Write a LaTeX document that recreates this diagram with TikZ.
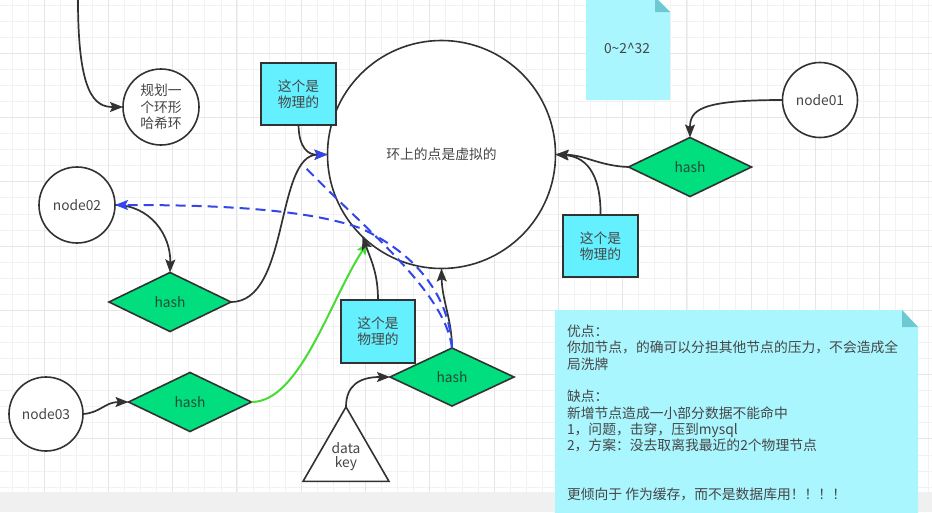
\documentclass[tikz,border=0pt]{standalone}
\usepackage{fontspec}
\setmainfont{Noto Sans CJK SC}
\usetikzlibrary{shapes.geometric,arrows.meta}
\definecolor{cyanbox}{RGB}{100,240,255}
\definecolor{greenc}{RGB}{0,222,125}
\definecolor{notefill}{RGB}{170,246,255}
\definecolor{notefold}{RGB}{110,200,210}
\definecolor{txt}{RGB}{70,70,70}
\definecolor{hashtxt}{RGB}{40,75,55}
\definecolor{linec}{RGB}{50,50,50}
\definecolor{bluec}{RGB}{50,70,235}
\definecolor{greenl}{RGB}{70,220,50}
\definecolor{gridminor}{RGB}{242,242,242}
\definecolor{gridmajor}{RGB}{230,230,230}
\definecolor{band}{RGB}{240,240,240}
\begin{document}
\begin{tikzpicture}[x=1pt,y=-1pt,
  every node/.style={font=\fontsize{13.8}{16.3}\selectfont, text=txt, outer sep=0pt},
  circ/.style={circle, draw=linec, line width=1.6pt, fill=white, inner sep=0pt, align=center},
  physbox/.style={rectangle, draw=linec, line width=1.6pt, fill=cyanbox, minimum width=75pt, minimum height=62pt, align=center, inner sep=0pt},
  hashd/.style={diamond, draw=linec, line width=1.6pt, fill=greenc, minimum width=123pt, minimum height=59pt, inner sep=0pt, text=hashtxt},
  tip/.style={-{Stealth[length=13pt,width=10pt,inset=2.5pt]}},
  conn/.style={draw=linec, line width=1.7pt, tip},
  bluedash/.style={draw=bluec, line width=2pt, dash pattern=on 10pt off 6pt},
  minorgrid/.style={draw=gridminor, line width=0.8pt},
  majorgrid/.style={draw=gridmajor, line width=0.9pt}]
\useasboundingbox (0,0) rectangle (932,512);
\fill[white] (0,0) rectangle (932,512);
% grid
\foreach \i [evaluate=\i as \gx using 12+16.07*\i] in {0,...,57}
  \draw[minorgrid] (\gx,0) -- (\gx,492);
\foreach \j [evaluate=\j as \gy using 5+16.07*\j] in {0,...,30}
  \draw[minorgrid] (0,\gy) -- (932,\gy);
\foreach \k [evaluate=\k as \gx using 44.1+64.28*\k] in {0,...,13}
  \draw[majorgrid] (\gx,0) -- (\gx,492);
\foreach \k [evaluate=\k as \gy using 53.2+64.28*\k] in {0,...,6}
  \draw[majorgrid] (0,\gy) -- (932,\gy);
\fill[band] (0,492) rectangle (932,512);
% notes
\fill[notefill] (586,-3) -- (655,-3) -- (670,12) -- (670,100) -- (586,100) -- cycle;
\fill[notefold] (655,-3) -- (655,12) -- (670,12) -- cycle;
\node (range) at (627,48) {0\textasciitilde 2\textasciicircum 32};
\fill[notefill] (555,310) -- (902,310) -- (918,327) -- (918,515) -- (555,515) -- cycle;
\fill[notefold] (902,310) -- (902,327) -- (918,327) -- cycle;
\node[anchor=north west, align=left, inner sep=0pt] (pros) at (567,325)
  {优点：\\你加节点，的确可以分担其他节点的压力，不会造成全\\局洗牌\\[16.3pt]缺点：\\新增节点造成一小部分数据不能命中\\1，问题，击穿，压到mysql\\2，方案：没去取离我最近的2个物理节点\\[32.6pt]更倾向于 作为缓存，而不是数据库用！！！！};
% nodes
\node[circ, minimum size=228pt] (big) at (441.5,154.5) {环上的点是虚拟的};
\node[circ, minimum size=76pt] (ring) at (161,107) {规划一\\个环形\\哈希环};
\node[physbox] (box1) at (298.5,94) {这个是\\物理的};
\node[physbox] (boxR) at (600.5,246) {这个是\\物理的};
\node[physbox, minimum width=74pt, minimum height=63pt] (boxM) at (378,331.5) {这个是\\物理的};
\node[circ, minimum size=75pt] (node01) at (820,100) {node01};
\node[circ, minimum size=76pt] (node02) at (77,205) {node02};
\node[circ, minimum size=74pt] (node03) at (46,414) {node03};
\node[hashd] (hashR) at (690,167) {hash};
\node[hashd, minimum width=122pt] (hashL1) at (170,302) {hash};
\node[hashd] (hashL2) at (190,402) {hash};
\node[hashd, minimum width=124pt, minimum height=58pt] (hashM) at (452,377) {hash};
\node[regular polygon, regular polygon sides=3, minimum size=99.3pt, draw=linec, line width=1.6pt, fill=white, inner sep=0pt, align=center] (tri) at (346,456.6) {\raisebox{3pt}{\shortstack{data\\key}}};
% connectors
\coordinate (topstart) at (78,0);
\draw[conn] (topstart) .. controls (78,95) and (95,107) .. (ring.west);
\draw[conn] (box1.south) .. controls (299,148) and (308,155) .. (big.west);
\draw[draw=linec, line width=1.7pt, -{Stealth[length=13pt,width=10pt,inset=2.5pt,color=bluec,fill=bluec]}] (hashL1.east) .. controls (290,302) and (275,155) .. (big.west);
\draw[conn] (node02.east) .. controls (150,205) and (171,235) .. (hashL1.north);
\draw[conn] (node03.east) .. controls (100,413) and (105,402) .. (hashL2.west);
\draw[conn, draw=greenl, line width=2pt] (hashL2.east) .. controls (300,402) and (330,300) .. (big.230);
\draw[conn] (boxM.north) .. controls (378,275) and (372,262) .. (big.226);
\draw[conn] (hashM.north) .. controls (452,320) and (442,300) .. (big.south);
\draw[conn] (tri.corner 1) .. controls (346,385) and (360,377) .. (hashM.west);
\draw[conn] (node01.west) .. controls (700,100) and (690,110) .. (hashR.north);
\draw[conn] (hashR.west) .. controls (600,166) and (585,155) .. (big.east);
\draw[conn] (boxR.north) .. controls (601,180) and (590,157) .. (big.east);
\coordinate (bend) at (304,166);
\draw[bluedash, tip] (hashM.north) .. controls (450,300) and (420,255) .. (360,228) .. controls (300,207) and (200,205) .. (node02.east);
\draw[bluedash] (hashM.north) .. controls (445,290) and (360,225) .. (bend);
\end{tikzpicture}
\end{document}
